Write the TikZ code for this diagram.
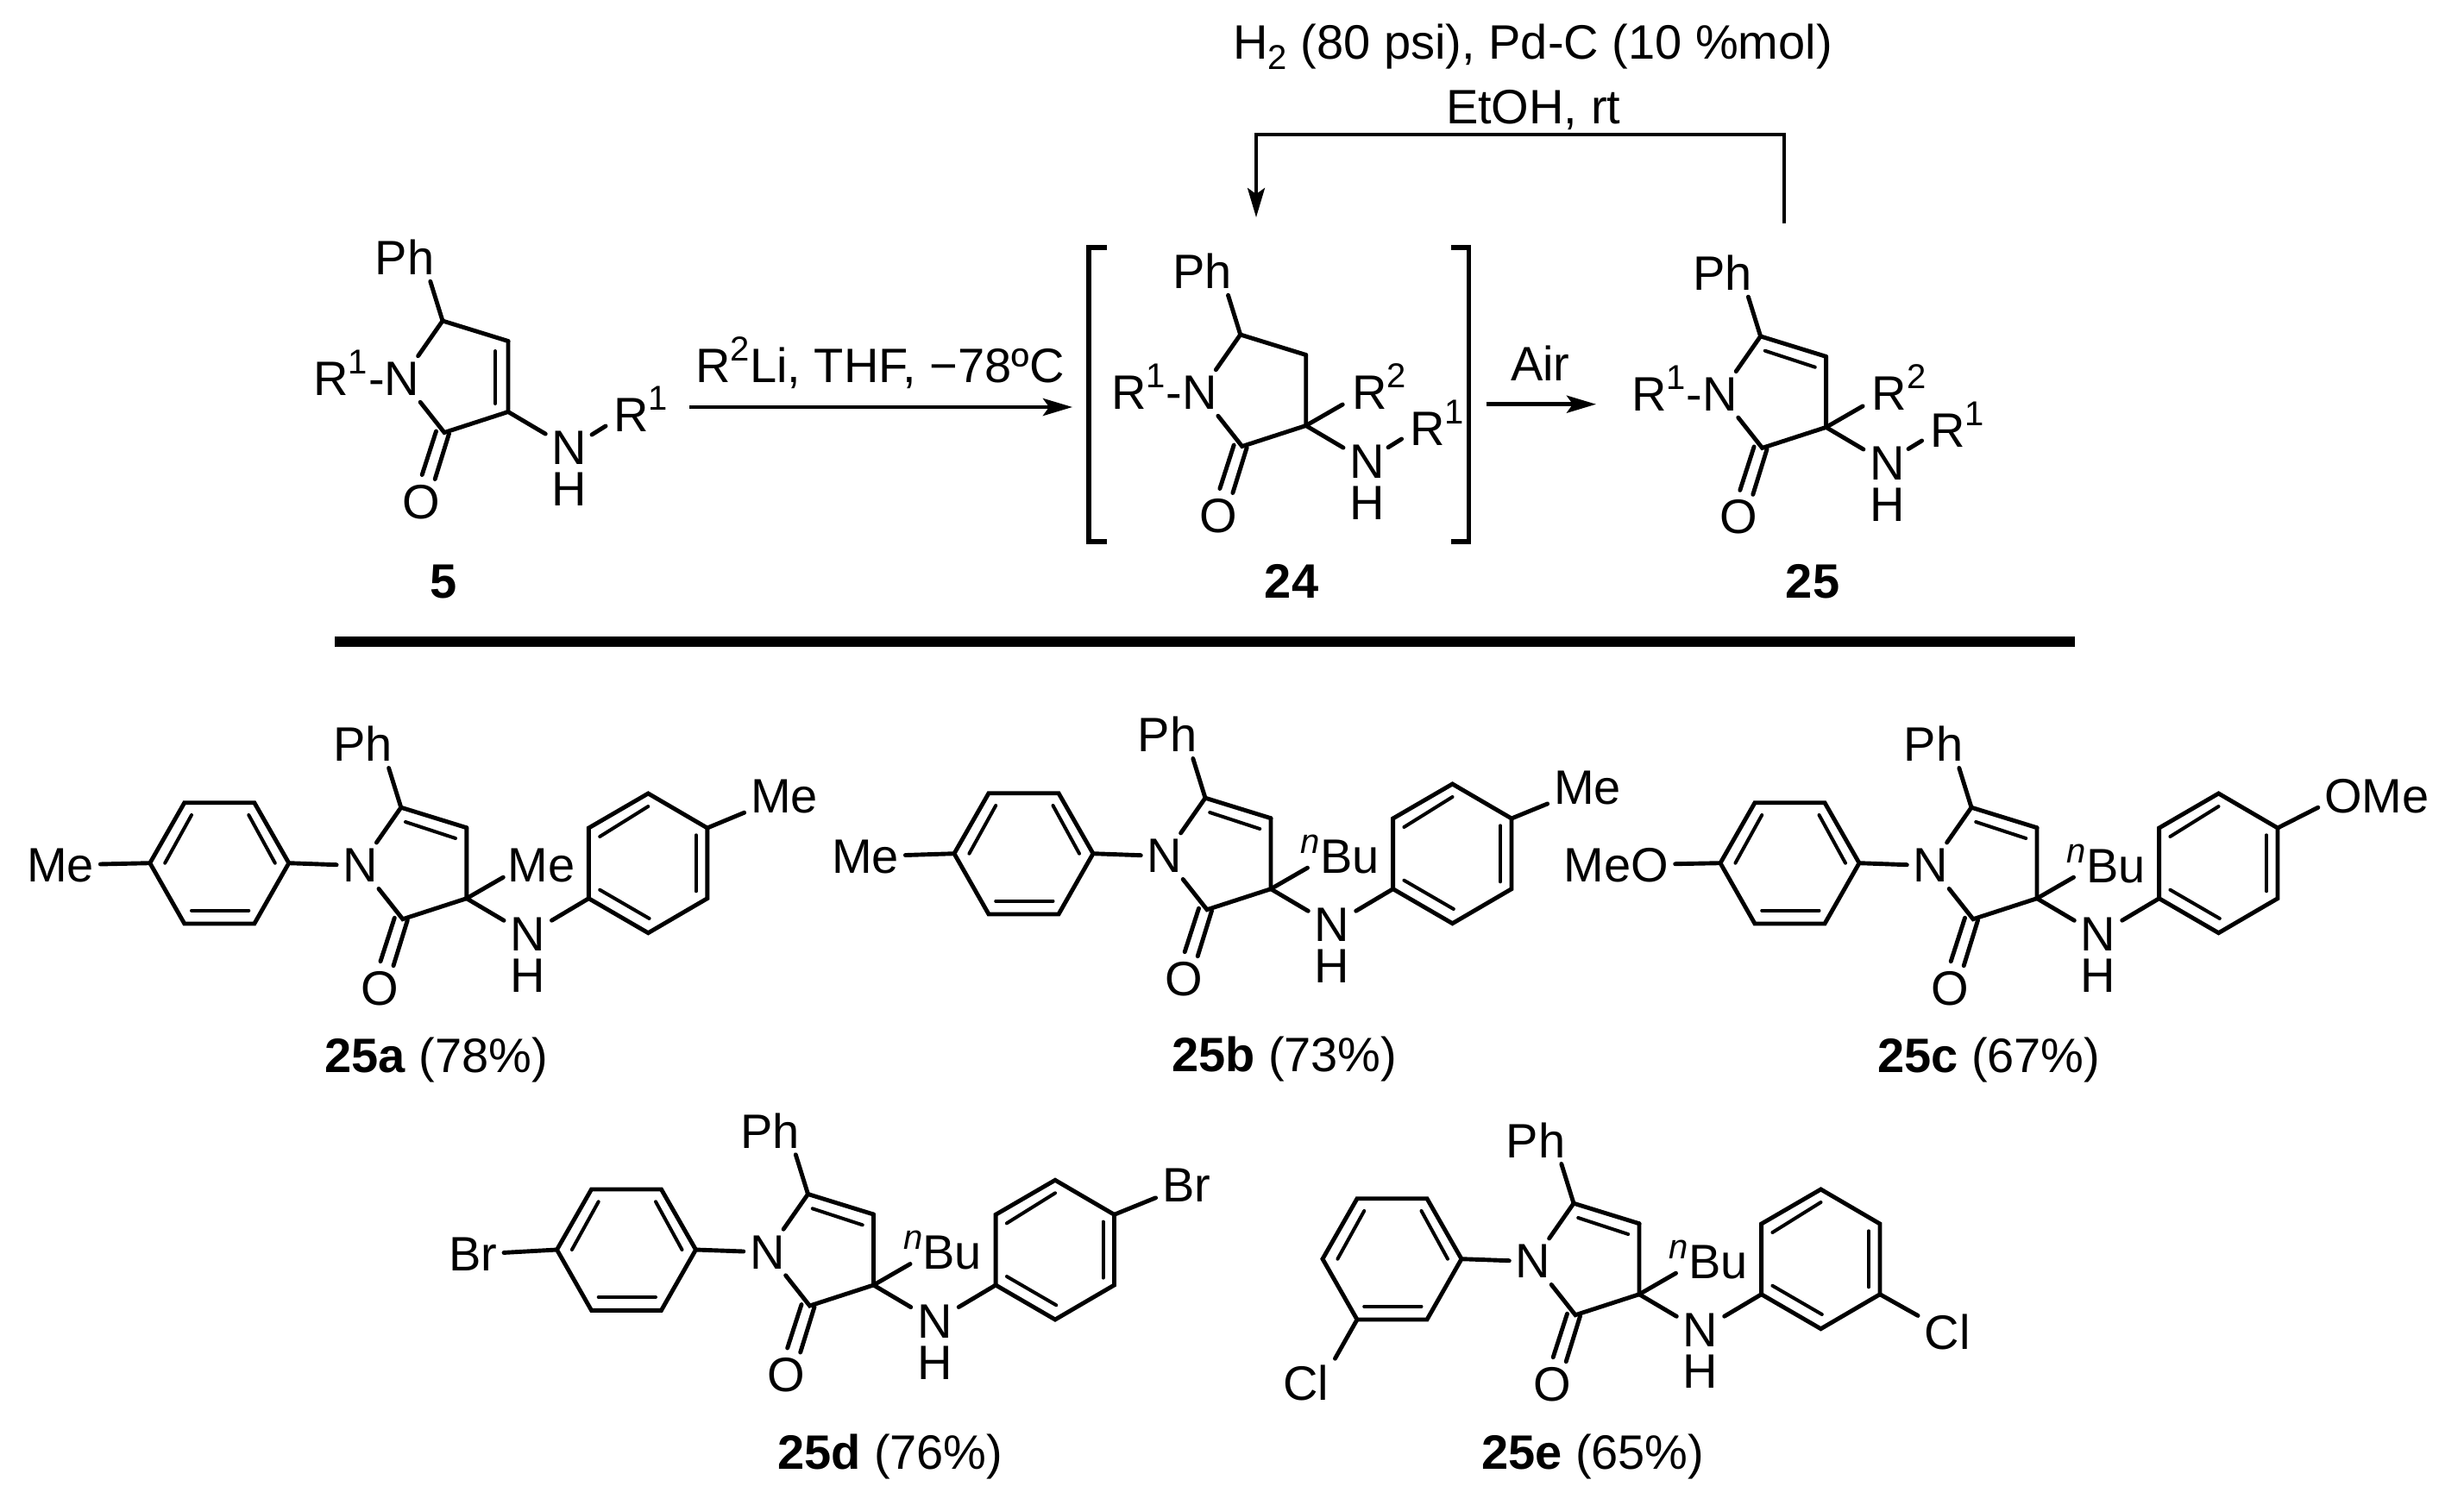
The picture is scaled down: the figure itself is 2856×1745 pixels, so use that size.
\documentclass[tikz,border=0pt]{standalone}
\usepackage{fontspec}
\setmainfont{Liberation Sans}
\usetikzlibrary{arrows.meta}
\newcommand{\supsc}[1]{\rlap{\smash{\raisebox{25pt}{\fontsize{40}{44}\selectfont #1}}}}
\newcommand{\supinl}[1]{\smash{\raisebox{25pt}{\fontsize{40}{44}\selectfont #1}}}
\newcommand{\subsc}[1]{\smash{\raisebox{-12pt}{\fontsize{40}{44}\selectfont #1}}}
\newcommand{\nbu}{\llap{\smash{\raisebox{23pt}{\fontsize{40}{44}\selectfont\itshape n}}}Bu}
\newcommand{\rone}{\llap{R\supinl{1}\hspace{1pt}-}}
\tikzset{
  txt/.style={font=\fontsize{56}{64}\selectfont, inner sep=0pt, outer sep=0pt},
  atom/.style={font=\fontsize{56}{64}\selectfont, inner sep=7.5pt, outer sep=0pt, text depth=0pt},
  bond/.style={line width=4.9pt, line cap=round, line join=miter, draw=black},
  thin bond/.style={line width=4pt, line cap=round, draw=black},
  rxn/.style={line width=4.6pt, draw=black, -{Stealth[length=34pt,width=20pt,inset=7pt]}},
  route/.style={line width=3.8pt, draw=black, line join=miter},
  bracket/.style={line width=5.5pt, draw=black, line join=miter},
}
% pyrrolinone core: name, x, y, text before N
\newcommand{\core}[4]{%
 \begin{scope}[shift={(#2,#3)}]
  \coordinate (#1c3) at (0,0);
  \coordinate (#1c4) at (0,-82);
  \coordinate (#1c5) at (-76,-105.5);
  \coordinate (#1c2) at (-74,24);
  \node[atom] (#1n) at (-123,-38) {#4N};
  \node[atom] (#1ph) at (-120,-179) {Ph};
  \node[atom] (#1o) at (-101,104) {O};
  \node[atom] (#1nh) at (71,42) {N};
  \node[atom] (#1h) at (71,90) {H};
  \draw[bond] (#1n) -- (#1c5);
  \draw[bond] (#1n) -- (#1c2) -- (#1c3) -- (#1c4);
  \draw[bond] (#1c5) -- (#1ph.-43.5);
  \draw[bond] (#1c3) -- (#1nh);
  \draw[bond] (-83.5,22.5) -- (-99.8,73);
  \draw[bond] (-68.5,25.3) -- (-84.8,78);
 \end{scope}}
% unsaturated C=C of the product core
\newcommand{\enebond}[3]{%
 \begin{scope}[shift={(#2,#3)}]
  \draw[bond] (#1c5) -- (#1c4);
  \draw[thin bond] (-70.8,-88.7) -- (-12.8,-69.7);
 \end{scope}}
% N-aryl ring
\newcommand{\ringL}[3]{%
 \begin{scope}[shift={(#2,#3)}]
  \coordinate (#1l) at (-367,-41);
  \coordinate (#1tl) at (-327,-111);
  \coordinate (#1tr) at (-246,-111);
  \coordinate (#1r) at (-206,-41);
  \coordinate (#1br) at (-246,29.3);
  \coordinate (#1bl) at (-327,29.3);
  \draw[bond] (#1l) -- (#1tl) -- (#1tr) -- (#1r) -- (#1br) -- (#1bl) -- cycle;
  \draw[thin bond] (-318.8,-96.7) -- (-349.6,-41);
  \draw[thin bond] (-252.5,-96.7) -- (-222,-41);
  \draw[thin bond] (-318.8,14) -- (-252.5,14);
 \end{scope}}
% NH-aryl ring
\newcommand{\ringR}[3]{%
 \begin{scope}[shift={(#2,#3)}]
  \coordinate (#1ll) at (141.6,0);
  \coordinate (#1ul) at (141.6,-81.7);
  \coordinate (#1t) at (210.5,-121.7);
  \coordinate (#1ur) at (279,-81.7);
  \coordinate (#1lr) at (279,0);
  \coordinate (#1b) at (210.5,40);
  \draw[bond] (#1ll) -- (#1ul) -- (#1t) -- (#1ur) -- (#1lr) -- (#1b) -- cycle;
  \draw[thin bond] (154.4,-71.7) -- (210.5,-106.7);
  \draw[thin bond] (266,-73.4) -- (266,-8.4);
  \draw[thin bond] (154.4,-10) -- (211.8,23.3);
 \end{scope}}
% ring substituent position on C3 with the label and its bond
\newcommand{\cthree}[4]{%
 \begin{scope}[shift={(#2,#3)}]
  \coordinate (#1subend) at (42.5,-24.5);
  \draw[bond] (#1c3) -- (#1subend);
  #4
 \end{scope}}
\begin{document}
\begin{tikzpicture}[x=1pt,y=-1pt]
\useasboundingbox (0,0) rectangle (2856,1745);
\fill[white] (0,0) rectangle (2856,1745);

% ---------- reaction scheme
\core{p}{589}{477.5}{\rone}
\draw[bond] (pc5) -- (pc4);
\draw[thin bond] (574,407) -- (574,468);
\node[txt, anchor=base west] (pr) at (711,500.5) {R\supsc{1}};
\draw[bond] (686,504) -- (702,494);

\core{q}{1513.7}{493.5}{\rone}
\draw[bond] (qc5) -- (qc4);
\cthree{q}{1513.7}{493.5}{\node[txt, anchor=base west] (qr2) at (53.3,-19.5) {R\supsc{2}};}
\node[txt, anchor=base west] (qr1) at (1634,516) {R\supsc{1}};
\draw[bond] (1609,518.7) -- (1624.6,509);

\core{s}{2116.6}{495.4}{\rone}
\enebond{s}{2116.6}{495.4}
\cthree{s}{2116.6}{495.4}{\node[txt, anchor=base west] (sr2) at (53.3,-19.5) {R\supsc{2}};}
\node[txt, anchor=base west] (sr1) at (2237,518) {R\supsc{1}};
\draw[bond] (2212,520.5) -- (2227.6,511);

\coordinate (a1s) at (799,472);
\coordinate (a1e) at (1243,472);
\draw[rxn] (a1s) -- (a1e);
\node[txt, anchor=base west] (t1) at (806.5,443.5) {R\supinl{2}Li, THF, −78ºC};

\coordinate (a2s) at (1722.6,468.7);
\coordinate (a2e) at (1850,468.7);
\draw[rxn] (a2s) -- (a2e);
\node[txt, anchor=base west] (t2) at (1751,441) {Air};

\coordinate (rts) at (2068,259);
\coordinate (rtc) at (2068,156);
\coordinate (rtd) at (1456,156);
\coordinate (rte) at (1456,252);
\draw[route, -{Stealth[length=34pt,width=20pt,inset=7pt]}] (rts) -- (rtc) -- (rtd) -- (rte);
\node[txt, anchor=base west] (t3) at (1429.5,69) {H\subsc{2} (80 psi), Pd-C (10 \%mol)};
\node[txt, anchor=base west] (t4) at (1676,143) {EtOH, rt};

\coordinate (bl1) at (1283,287);
\coordinate (bl2) at (1262,287);
\coordinate (bl3) at (1262,628);
\coordinate (bl4) at (1283,628);
\draw[bracket] (bl1) -- (bl2) -- (bl3) -- (bl4);
\coordinate (br1) at (1682,287);
\coordinate (br2) at (1702.7,287);
\coordinate (br3) at (1702.7,628);
\coordinate (br4) at (1682,628);
\draw[bracket] (br1) -- (br2) -- (br3) -- (br4);

\node[txt, anchor=base] (l5) at (514,693) {\textbf{5}};
\node[txt, anchor=base] (l24) at (1497,693) {\textbf{24}};
\node[txt, anchor=base] (l25) at (2101,693) {\textbf{25}};

\coordinate (bar1) at (388,744);
\coordinate (bar2) at (2405,744);
\draw[line width=11.6pt] (bar1) -- (bar2);

% ---------- 25a
\core{a}{540.8}{1041.7}{}
\enebond{a}{540.8}{1041.7}
\ringL{aL}{540.8}{1041.7}
\ringR{aR}{540.8}{1041.7}
\draw[bond] (aLr) -- (an);
\draw[bond] (anh) -- (aRll);
\node[atom] (ame1) at (70,1003) {Me};
\draw[bond] (ame1) -- (aLl);
\node[atom] (ame2) at (909,923) {Me};
\draw[bond] (aRur) -- (ame2);
\cthree{a}{540.8}{1041.7}{\node[txt] (ame3) at (87,-38.7) {Me};}
\node[txt, anchor=base west] (la) at (376,1243) {\textbf{25a} (78\%)};

% ---------- 25b
\core{b}{1473}{1030.7}{}
\enebond{b}{1473}{1030.7}
\ringL{bL}{1473}{1030.7}
\ringR{bR}{1473}{1030.7}
\draw[bond] (bLr) -- (bn);
\draw[bond] (bnh) -- (bRll);
\node[atom] (bme1) at (1003,993) {Me};
\draw[bond] (bme1) -- (bLl);
\node[atom] (bme2) at (1840,913) {Me};
\draw[bond] (bRur) -- (bme2);
\cthree{b}{1473}{1030.7}{\node[txt, anchor=base west] (bbu) at (57,-18.7) {\nbu};}
\node[txt, anchor=base west] (lb) at (1358,1242) {\textbf{25b} (73\%)};

% ---------- 25c
\core{c}{2361}{1041.7}{}
\enebond{c}{2361}{1041.7}
\ringL{cL}{2361}{1041.7}
\ringR{cR}{2361}{1041.7}
\draw[bond] (cLr) -- (cn);
\draw[bond] (cnh) -- (cRll);
\node[atom] (cmeo) at (1873.5,1003) {MeO};
\draw[bond] (cmeo) -- (cLl);
\node[atom] (come) at (2755,923) {OMe};
\draw[bond] (cRur) -- (come.191);
\cthree{c}{2361}{1041.7}{\node[txt, anchor=base west] (cbu) at (57,-18.7) {\nbu};}
\node[txt, anchor=base west] (lc) at (2176,1243) {\textbf{25c} (67\%)};

% ---------- 25d
\core{d}{1012.5}{1490}{}
\enebond{d}{1012.5}{1490}
\ringL{dL}{1012.5}{1490}
\ringR{dR}{1012.5}{1490}
\draw[bond] (dLr) -- (dn);
\draw[bond] (dnh) -- (dRll);
\node[atom] (dbr1) at (548.5,1454.4) {Br};
\draw[bond] (dbr1) -- (dLl);
\node[atom] (dbr2) at (1375,1374.4) {Br};
\draw[bond] (dRur) -- (dbr2);
\cthree{d}{1012.5}{1490}{\node[txt, anchor=base west] (dbu) at (57,-18.7) {\nbu};}
\node[txt, anchor=base west] (ld) at (901,1703) {\textbf{25d} (76\%)};

% ---------- 25e
\core{e}{1900}{1500.7}{}
\enebond{e}{1900}{1500.7}
\ringL{eL}{1900}{1500.7}
\ringR{eR}{1900}{1500.7}
\draw[bond] (eLr) -- (en);
\draw[bond] (enh) -- (eRll);
\node[atom] (ecl1) at (1513.5,1603) {Cl};
\draw[bond] (eLbl) -- (ecl1.north east);
\node[atom] (ecl2) at (2257,1544.5) {Cl};
\draw[bond] (eRlr) -- (ecl2);
\cthree{e}{1900}{1500.7}{\node[txt, anchor=base west] (ebu) at (57,-18.7) {\nbu};}
\node[txt, anchor=base west] (le) at (1717,1703) {\textbf{25e} (65\%)};
\end{tikzpicture}
\end{document}
